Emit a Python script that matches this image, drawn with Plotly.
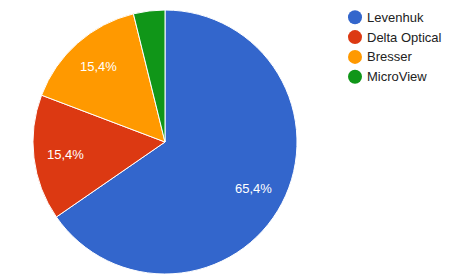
import math
import plotly.graph_objects as go

labels = ["Levenhuk", "Delta Optical", "Bresser", "MicroView"]
values = [17, 4, 4, 1]
colors = ["#3366CC", "#DC3912", "#FF9900", "#109618"]
min_label_frac = 0.05  # slices smaller than this get no label

W, H = 464, 278
CX, CY, R = 165, 142, 132  # pie centre/radius in px (layout)
LABEL_R = 0.76 * R
FONT = "Liberation Sans, Arial, sans-serif"

fig = go.Figure()
fig.add_trace(go.Pie(
    labels=labels, values=values, sort=False, direction="clockwise", rotation=0,
    marker=dict(colors=colors, line=dict(color="white", width=1)),
    textinfo="none", showlegend=False, hoverinfo="label+percent",
    domain=dict(x=[(CX - R) / W, (CX + R) / W], y=[1 - (CY + R) / H, 1 - (CY - R) / H]),
))

annotations = []
shapes = []
total = sum(values)
cum = 0.0
for lab, v in zip(labels, values):
    frac = v / total
    mid = (cum + frac / 2) * 2 * math.pi
    cum += frac
    if frac < min_label_frac:
        continue
    px = CX + LABEL_R * math.sin(mid)
    py = CY - LABEL_R * math.cos(mid)
    txt = f"{frac * 100:.1f}%".replace(".", ",")
    annotations.append(dict(
        x=px / W, y=1 - py / H, xref="paper", yref="paper", text=txt,
        showarrow=False, xanchor="center", yanchor="middle",
        font=dict(family=FONT, size=13, color="white"),
    ))

# legend
LX, LY0, LSTEP, LD = 355, 17.3, 19.8, 14
for i, (lab, col) in enumerate(zip(labels, colors)):
    y = LY0 + i * LSTEP
    shapes.append(dict(
        type="circle", xref="paper", yref="paper",
        x0=(LX - LD / 2) / W, x1=(LX + LD / 2) / W,
        y0=1 - (y + LD / 2) / H, y1=1 - (y - LD / 2) / H,
        fillcolor=col, line=dict(width=0),
    ))
    annotations.append(dict(
        x=365 / W, y=1 - y / H, xref="paper", yref="paper", text=lab,
        showarrow=False, xanchor="left", yanchor="middle",
        font=dict(family=FONT, size=13, color="#222222"),
    ))

fig.update_layout(
    width=W, height=H, margin=dict(l=0, r=0, t=0, b=0),
    paper_bgcolor="white", plot_bgcolor="white",
    annotations=annotations, shapes=shapes,
)
fig.write_html("out.html")
